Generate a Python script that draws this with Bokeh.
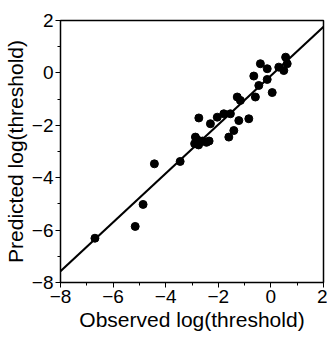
from bokeh.plotting import figure
from bokeh.models import SingleIntervalTicker, Range1d
from bokeh.embed import file_html
from bokeh.resources import INLINE

observed = [-6.69, -5.16, -4.86, -4.43, -3.45,
            -2.87, -2.9, -2.75, -2.6, -2.45, -2.35, -2.8,
            -2.74, -2.3, -2.04, -1.79, -1.54, -1.22, -0.84, -1.41, -1.6,
            -1.28, -1.16, -0.59, 0.05, -0.46, -0.14, -0.65, -0.4, -0.14, 0.3, 0.56, 0.62, 0.49]
predicted = [-6.31, -5.86, -5.02, -3.47, -3.38,
             -2.45, -2.7, -2.75, -2.6, -2.65, -2.6, -2.55,
             -1.72, -1.94, -1.69, -1.56, -1.56, -1.82, -1.75, -2.2, -2.45,
             -0.92, -1.05, -0.92, -0.75, -0.48, -0.25, -0.12, 0.35, 0.16, 0.22, 0.6, 0.35, 0.09]
fit_x = [-8, 2]
fit_y = [-7.57, 1.76]

FONT = "Liberation Sans"

p = figure(frame_width=263, frame_height=262, output_backend="svg", toolbar_location=None,
           x_range=Range1d(-8, 2), y_range=Range1d(-8, 2),
           min_border_left=55, min_border_right=4, min_border_top=20, min_border_bottom=10)

p.line(fit_x, fit_y, line_color="black", line_width=2)
p.scatter(observed, predicted, size=8, color="black")

p.xgrid.visible = False
p.ygrid.visible = False
p.outline_line_color = "black"
p.outline_line_width = 1.5
p.background_fill_color = "white"
p.border_fill_color = "white"

for ax in (p.xaxis[0], p.yaxis[0]):
    ax.ticker = SingleIntervalTicker(interval=2, num_minor_ticks=2)
    ax.major_tick_out = 5
    ax.major_tick_in = 0
    ax.minor_tick_out = 3
    ax.minor_tick_in = 0
    ax.axis_line_color = "black"
    ax.major_tick_line_color = "black"
    ax.minor_tick_line_color = "black"
    ax.major_label_text_font = FONT
    ax.major_label_text_font_size = "19px"
    ax.major_label_text_color = "black"
    ax.axis_label_text_font = FONT
    ax.axis_label_text_font_size = "21px"
    ax.axis_label_text_font_style = "normal"
    ax.axis_label_text_color = "black"
    ax.major_label_standoff = 2
    ax.axis_label_standoff = 2

p.xaxis.axis_label = "Observed log(threshold)"
p.yaxis.axis_label = "Predicted log(threshold)"

open("out.html", "w").write(file_html(p, INLINE))
